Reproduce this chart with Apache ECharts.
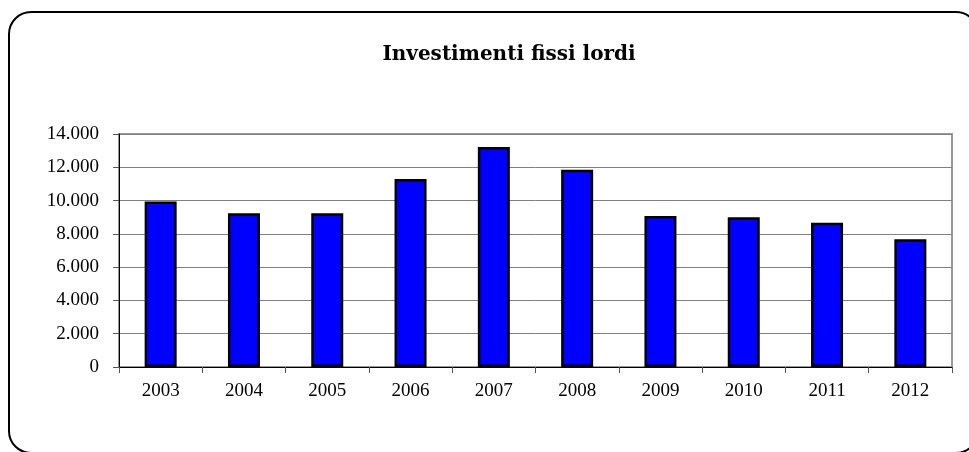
<!DOCTYPE html>
<html>
<head>
<meta charset="utf-8">
<script src="https://cdn.jsdelivr.net/npm/echarts@6/dist/echarts.min.js"></script>
<style>
html,body{margin:0;padding:0;background:#fff;}
#c{width:969px;height:452px;}
</style>
</head>
<body>
<div id="c"></div>
<script>
const titleText = 'Investimenti fissi lordi';
const categories = ['2003','2004','2005','2006','2007','2008','2009','2010','2011','2012'];
const values = [9950, 9240, 9240, 11290, 13220, 11850, 9080, 9000, 8660, 7680];
const yMin = 0, yMax = 14000, yStep = 2000;

function fmt(v){
  return String(v).replace(/\B(?=(\d{3})+(?!\d))/g, '.');
}

const chart = echarts.init(document.getElementById('c'), null, {renderer:'canvas'});
chart.setOption({
  animation: false,
  backgroundColor: '#fff',
  title: {
    text: titleText,
    left: 504,
    top: 40,
    textAlign: 'center',
    textStyle: {fontFamily: 'DejaVu Serif', fontWeight: 'bold', fontSize: 20, color: '#000'}
  },
  graphic: [{
    type: 'rect',
    shape: {x: 9, y: 12, width: 969, height: 441, r: 22},
    style: {fill: 'none', stroke: '#000', lineWidth: 2},
    silent: true, z: 100
  }],
  grid: {
    left: 119, right: 17, top: 134, bottom: 85,
    show: true, borderColor: '#999', borderWidth: 2, backgroundColor: 'transparent'
  },
  xAxis: {
    type: 'category',
    data: categories,
    axisLine: {lineStyle: {color: '#000', width: 1}},
    axisTick: {show: true, alignWithLabel: false, length: 6, lineStyle: {color: '#555'}},
    axisLabel: {margin: 15, fontFamily: 'Liberation Serif', fontSize: 19, color: '#000'},
    splitLine: {show: false}
  },
  yAxis: {
    type: 'value',
    min: yMin, max: yMax, interval: yStep,
    axisLine: {show: true, lineStyle: {color: '#000', width: 1}},
    axisTick: {show: true, length: 6, lineStyle: {color: '#555'}},
    axisLabel: {margin: 20, fontFamily: 'Liberation Serif', fontSize: 19, color: '#000', formatter: fmt},
    splitLine: {show: true, lineStyle: {color: '#808080', width: 1}}
  },
  series: [{
    type: 'bar',
    data: values,
    barWidth: 32,
    itemStyle: {color: '#0000ff', borderColor: '#000', borderWidth: 2.5}
  }]
});
</script>
</body>
</html>
